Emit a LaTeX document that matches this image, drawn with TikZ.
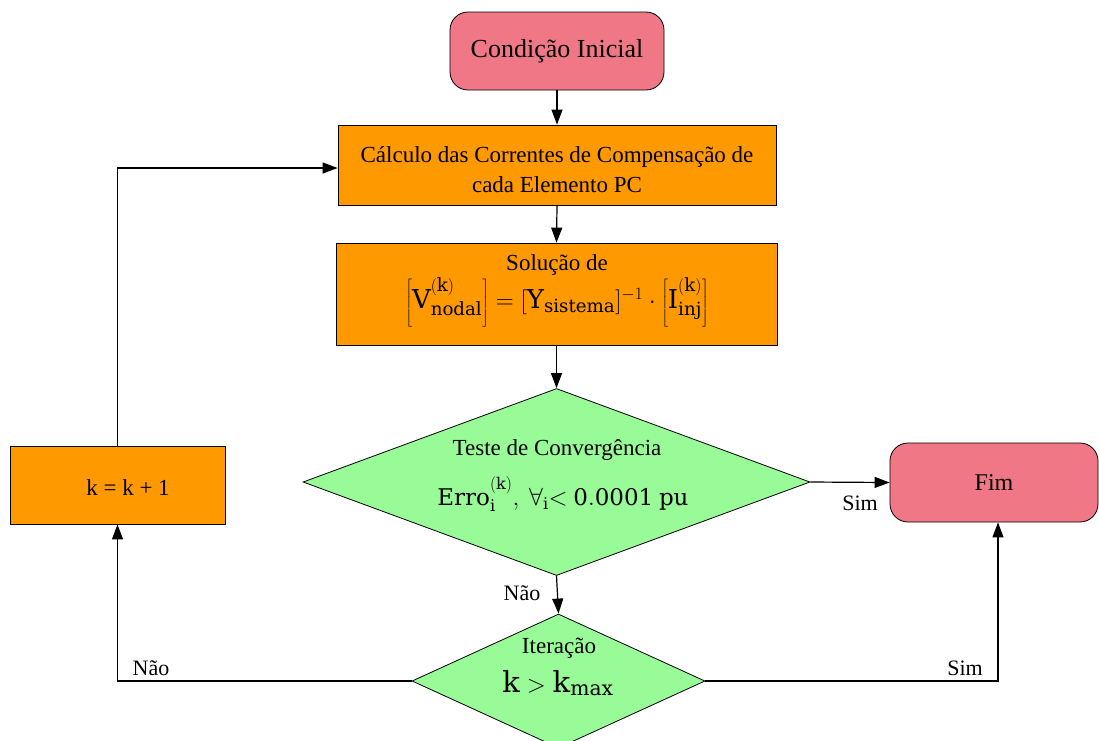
\documentclass[tikz,border=0pt]{standalone}
\usepackage{fontspec}
\setmainfont{Liberation Serif}
\setmathrm{DejaVu Serif}
\usetikzlibrary{shapes.geometric,arrows.meta}
\definecolor{termpink}{RGB}{240,120,134}
\definecolor{procorange}{RGB}{255,153,0}
\definecolor{decgreen}{RGB}{152,251,152}

\begin{document}
\begin{tikzpicture}[x=1pt,y=-1pt,
  every node/.style={font=\fontsize{23}{30}\selectfont},
  term/.style={draw, line width=0.8pt, fill=termpink, rounded corners=18pt, inner sep=0pt},
  proc/.style={draw, line width=0.8pt, fill=procorange, inner sep=0pt, align=center},
  dec/.style={draw, line width=0.8pt, fill=decgreen, diamond, inner sep=0pt},
  txt/.style={inner sep=0pt, align=center},
  eqn/.style={inner sep=0pt, font=\fontsize{26}{30}\selectfont},
  conn/.style={draw, line width=1.2pt, -{Triangle[length=15pt,width=11pt]}},
  lbl/.style={inner sep=0pt, font=\fontsize{22}{24}\selectfont},
]
\useasboundingbox (0,0) rectangle (1099,740);

% boxes, terminals and decisions
\node[term, minimum width=214pt, minimum height=78pt, font=\fontsize{26}{30}\selectfont]
  (ini) at (557,51) {Condição Inicial};
\node[proc, minimum width=438pt, minimum height=80pt] (calc) at (557,165) {};
\node[proc, minimum width=441pt, minimum height=102pt] (sol) at (556.5,294) {};
\node[dec, minimum width=507pt, minimum height=187pt] (conv) at (556.5,482) {};
\node[term, minimum width=208pt, minimum height=79pt, font=\fontsize{24}{30}\selectfont]
  (fim) at (994,482.5) {Fim};
\node[dec, minimum width=293pt, minimum height=134pt] (iter) at (558.5,681) {};
\node[proc, minimum width=215pt, minimum height=78pt] (kinc) at (117.5,485) {};

% texts inside the shapes
\node[txt] (calcT) at (557,170) {Cálculo das Correntes de Compensação de\\cada Elemento PC};
\node[txt] (solT) at (557,265) {Solução de};
\node[eqn] (solE) at (557,302)
  {$\left[\mathrm{V}^{(\mathrm{k})}_{\mathrm{nodal}}\right]=[\mathrm{Y}_{\mathrm{sistema}}]^{-1}\cdot\left[\mathrm{I}^{(\mathrm{k})}_{\mathrm{inj}}\right]$};
\node[txt] (convT) at (557,450) {Teste de Convergência};
\node[eqn, font=\fontsize{23}{26}\selectfont] (convE) at (563,494)
  {$\mathrm{Erro}_{\mathrm{i}}^{(\mathrm{k})},\ \forall_{\mathrm{i}}{<}\ \mathrm{0.0001\ pu}$};
\node[txt] (iterT) at (559,648) {Iteração};
\node[eqn, font=\fontsize{29}{32}\selectfont] (iterE) at (558,683)
  {$\mathrm{k}>\mathrm{k}_{\mathrm{max}}$};
\node[txt] (kincT) at (128,488) {k = k + 1};

% connectors
\draw[conn] (ini.south) -- (calc.north);
\draw[conn] (calc.south) -- (sol.north);
\draw[conn] (sol.south) -- (conv.north);
\draw[conn] (conv.east) -- (fim.west);
\draw[conn] (conv.south) -- (iter.north);
\draw[conn] (iter.west) -| (kinc.south);
\draw[conn] (iter.east) -| ([xshift=4pt]fim.south);
\draw[conn] (kinc.north) |- ([yshift=-3pt]calc.west);

% branch labels
\node[lbl] (simA) at (860,503) {Sim};
\node[lbl] (naoA) at (522,593) {Não};
\node[lbl] (naoB) at (151,668) {Não};
\node[lbl] (simB) at (965,668) {Sim};
\end{tikzpicture}
\end{document}
